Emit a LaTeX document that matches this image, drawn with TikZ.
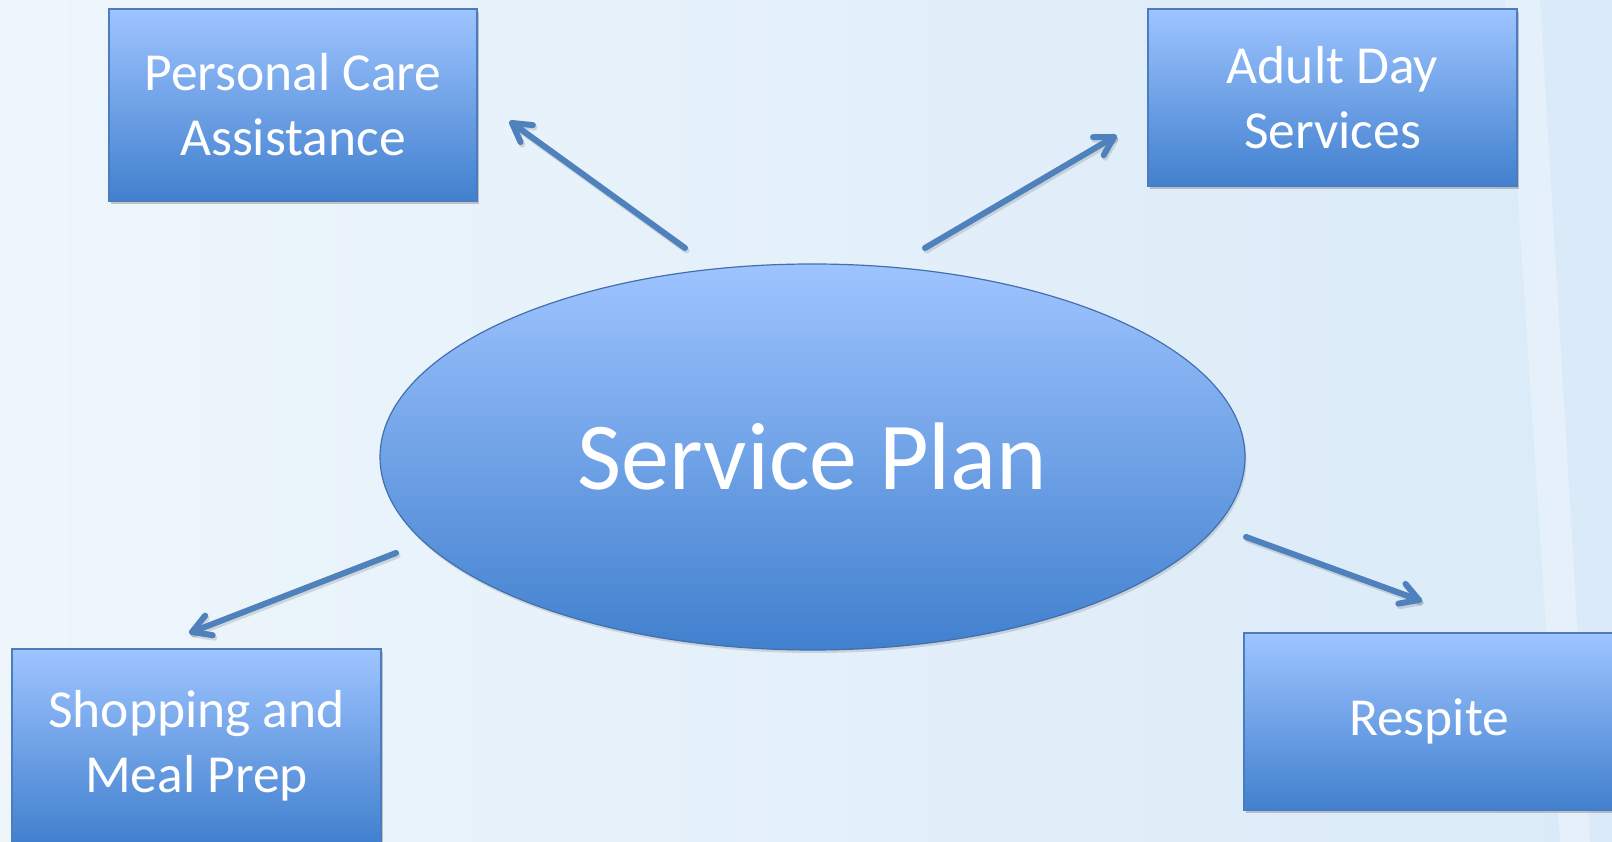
\documentclass[tikz,border=0pt]{standalone}
\usepackage{fontspec}
\setmainfont{Carlito}
\usetikzlibrary{calc,shapes.geometric,shadows}
\definecolor{bgL}{HTML}{EEF6FC}
\definecolor{bgR}{HTML}{DAEAF8}
\definecolor{boxTop}{HTML}{9EC4FF}
\definecolor{boxBot}{HTML}{4180CE}
\definecolor{boxLine}{HTML}{4A7CBF}
\definecolor{arrowC}{HTML}{4F81BD}
\tikzset{
  boxnode/.style={rectangle, draw=boxLine, line width=1.5pt, top color=boxTop, bottom color=boxBot,
    text=white, align=center, inner sep=0pt,
    font=\fontsize{53.5}{65}\selectfont,
    drop shadow={shadow xshift=2pt, shadow yshift=-3pt, opacity=0.2, fill=black}},
  ellnode/.style={ellipse, draw=boxLine!90!black, line width=1.2pt, top color=boxTop, bottom color=boxBot,
    text=white, align=center, inner sep=0pt,
    font=\fontsize{96}{110}\selectfont,
    drop shadow={shadow xshift=1.5pt, shadow yshift=-3pt, opacity=0.12, fill=black}},
  link/.style={draw=arrowC, line width=6pt, line cap=round, line join=round},
  linkshadow/.style={draw=black, opacity=0.12, line width=6pt, line cap=round, line join=round,
    transform canvas={xshift=1.5pt, yshift=-2.5pt}}
}
\newcommand\vlink[2]{%
  \draw[linkshadow] (#1) -- (#2);
  \draw[linkshadow] ($(#2)!21pt!-30:(#1)$) -- (#2) -- ($(#2)!21pt!30:(#1)$);
  \draw[link] (#1) -- (#2);
  \draw[link] ($(#2)!21pt!-30:(#1)$) -- (#2) -- ($(#2)!21pt!30:(#1)$);
}
\begin{document}
\begin{tikzpicture}[x=1pt,y=1pt]
\useasboundingbox (0,0) rectangle (1612,842);
\shade[left color=bgL, right color=bgR] (0,0) rectangle (1612,842);
\fill[white, opacity=0.3] (1505,842) -- (1540,842) -- (1590,0) -- (1560,0) -- cycle;

\node[ellnode, minimum width=865pt, minimum height=386pt] (sp) at (812.5,385) {Service Plan};

\node[boxnode, minimum width=368pt, minimum height=192pt] (pc) at (293,737) {Personal Care\\Assistance};
\node[boxnode, minimum width=369pt, minimum height=177pt] (ad) at (1332.5,744.5) {Adult Day\\Services};
\node[boxnode, minimum width=369pt, minimum height=194pt] (sh) at (196.5,96) {Shopping and\\Meal Prep};
\node[boxnode, minimum width=370pt, minimum height=177pt] (re) at (1429,120.5) {Respite};

\coordinate (a1s) at (685,594);
\coordinate (a1e) at (512,719);
\coordinate (a2s) at (925,594);
\coordinate (a2e) at (1114,705);
\coordinate (a3s) at (396,289);
\coordinate (a3e) at (192,210);
\coordinate (a4s) at (1246,305);
\coordinate (a4e) at (1419,242);

\vlink{a1s}{a1e}
\vlink{a2s}{a2e}
\vlink{a3s}{a3e}
\vlink{a4s}{a4e}
\end{tikzpicture}
\end{document}
